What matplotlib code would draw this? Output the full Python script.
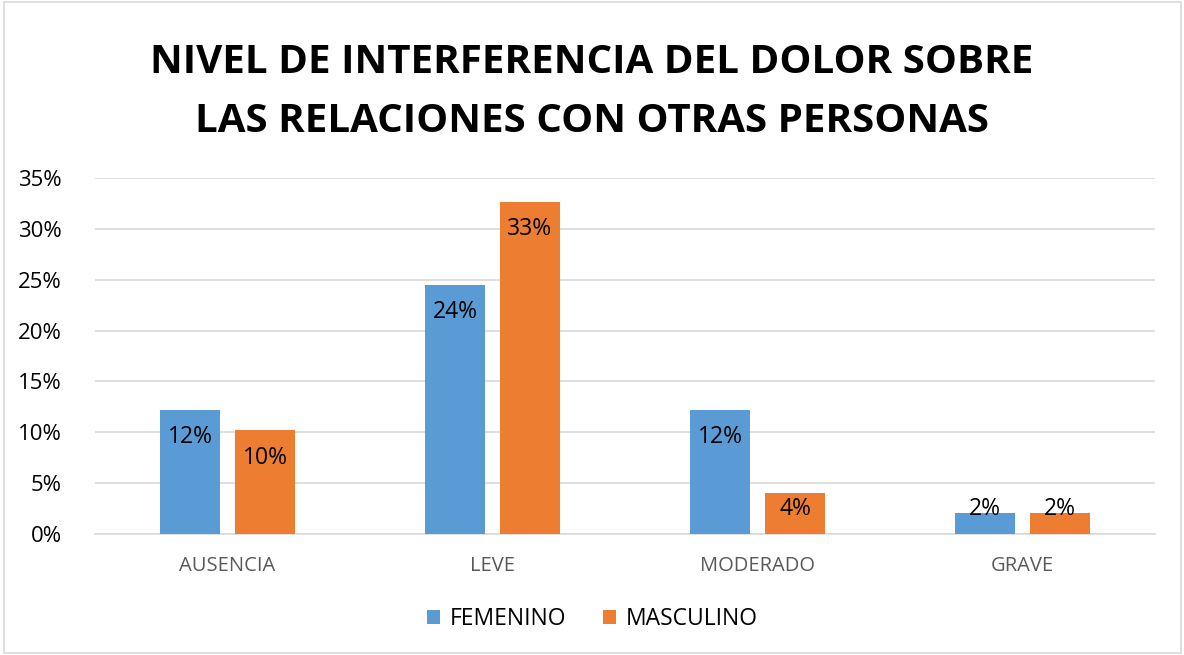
import matplotlib.pyplot as plt
import numpy as np
from matplotlib.patches import Rectangle

plt.rcParams['font.family'] = ['Open Sans', 'DejaVu Sans']

# Datos
categorias = ['AUSENCIA', 'LEVE', 'MODERADO', 'GRAVE']
femenino = [12.24, 24.49, 12.24, 2.04]
masculino = [10.20, 32.65, 4.08, 2.04]
etiquetas_fem = ['12%', '24%', '12%', '2%']
etiquetas_masc = ['10%', '33%', '4%', '2%']
series = ['FEMENINO', 'MASCULINO']
colores = ['#5B9BD5', '#ED7D31']

fig = plt.figure(figsize=(11.84, 6.55), dpi=100)
ax = fig.add_axes([95/1184, 1 - 534/655, (1155-95)/1184, (534-178)/655])

# Borde del grafico
fig.patches.append(Rectangle((4/1184, 2/655), 1177/1184, 651/655, transform=fig.transFigure,
                             fill=False, edgecolor='#D9D9D9', linewidth=1.2))

x = np.arange(len(categorias))
width = 0.223
off = width/2 + 0.03

bars1 = ax.bar(x - off, femenino, width, color=colores[0], label=series[0], zorder=3)
bars2 = ax.bar(x + off, masculino, width, color=colores[1], label=series[1], zorder=3)

# Etiquetas dentro de la barra (si la barra es baja, se suben como en Excel)
for bars, labs in [(bars1, etiquetas_fem), (bars2, etiquetas_masc)]:
    for bar, lab in zip(bars, labs):
        h = bar.get_height()
        y = max(h - 1.5, 3.6)
        ax.text(bar.get_x() + bar.get_width()/2, y, lab, ha='center', va='top',
                fontsize=16.5, color='black', zorder=4)

ax.set_xlim(-0.5, 3.5)
ax.set_ylim(0, 35)
ax.set_yticks(np.arange(0, 36, 5))
ax.set_yticklabels([f'{v}%' for v in range(0, 36, 5)], fontsize=16, color='black')
ax.set_xticks(x)
ax.set_xticklabels(categorias, fontsize=14.5, color='#595959')
ax.tick_params(axis='both', length=0)
ax.tick_params(axis='x', pad=16)
ax.tick_params(axis='y', pad=24)
ax.grid(axis='y', color='#D9D9D9', linewidth=1.2, zorder=0)
for s in ['top', 'right', 'left']:
    ax.spines[s].set_visible(False)
ax.spines['bottom'].set_color('#D9D9D9')
ax.spines['bottom'].set_linewidth(1.2)

fig.text(0.5, 1 - 92/655, 'NIVEL DE INTERFERENCIA DEL DOLOR SOBRE\nLAS RELACIONES CON OTRAS PERSONAS',
         ha='center', va='center', fontsize=29, fontweight='bold', linespacing=1.65)

ax.legend(loc='center', bbox_to_anchor=(0.5, 1 - 619/655), bbox_transform=fig.transFigure,
          ncol=2, frameon=False, fontsize=16.5, handlelength=0.6, handleheight=0.6,
          columnspacing=1.6, handletextpad=0.4)

fig.savefig('out.png', dpi=100)
